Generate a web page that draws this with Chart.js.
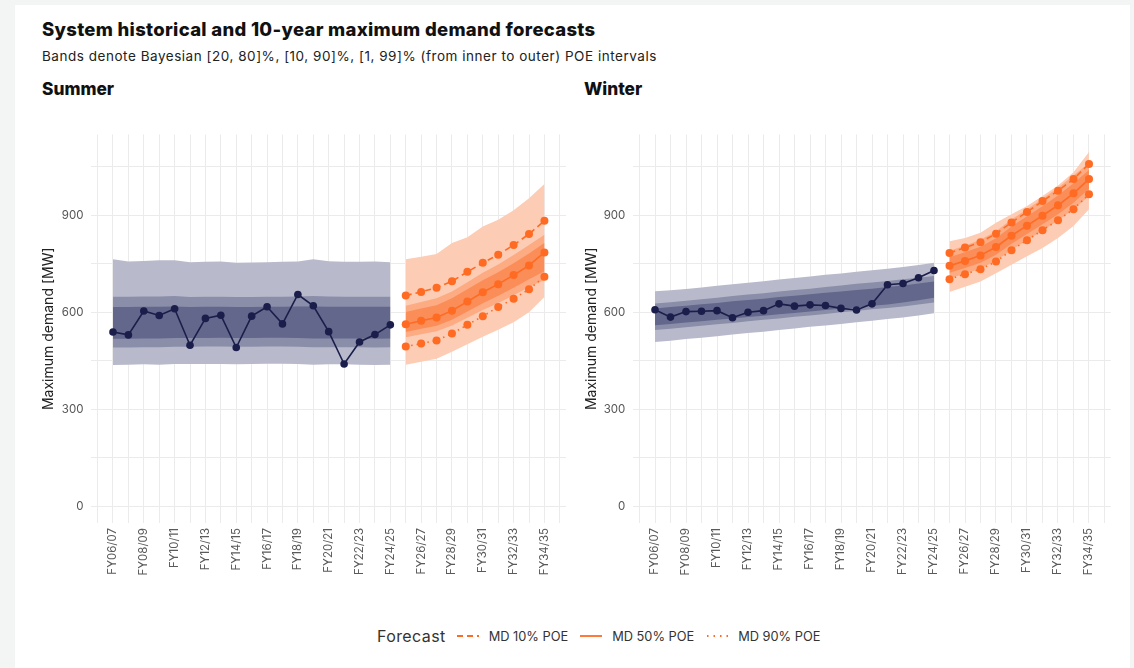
<!DOCTYPE html>
<html>
<head>
<meta charset="utf-8">
<script src="https://cdn.jsdelivr.net/npm/chart.js@4.4.1/dist/chart.umd.min.js"></script>
<style>
  html, body { margin:0; padding:0; }
  body { width:1134px; height:668px; background:#f3f4f4; position:relative; overflow:hidden; font-family: Inter, "DejaVu Sans", sans-serif; }
  #card { position:absolute; left:15px; top:5px; width:1115px; height:663px; background:#fff; }
  .abs { position:absolute; white-space:nowrap; }
  #title { left:42px; top:17px; font-size:18.5px; font-weight:800; color:#111; line-height:24px; letter-spacing:0.3px; }
  #subtitle { left:42px; top:47px; font-size:13.5px; color:#222; line-height:18px; letter-spacing:0.53px; }
  .panel { font-size:17.3px; font-weight:800; color:#111; line-height:20px; top:79px; }
  canvas { position:absolute; }
  #legend { left:377px; top:624px; height:24px; display:flex; align-items:center; color:#333; }
  #legend .lt { font-size:16px; margin-right:11px; letter-spacing:0.4px; }
  #legend .it { font-size:12.8px; margin-left:10px; margin-right:12px; letter-spacing:0px; }
</style>
</head>
<body>
<div id="card"></div>
<div id="title" class="abs">System historical and 10-year maximum demand forecasts</div>
<div id="subtitle" class="abs">Bands denote Bayesian [20, 80]%, [10, 90]%, [1, 99]% (from inner to outer) POE intervals</div>
<div class="abs panel" style="left:42px">Summer</div>
<div class="abs panel" style="left:584px">Winter</div>
<canvas id="summer" width="540" height="475" style="left:30px;top:125px"></canvas>
<canvas id="winter" width="540" height="475" style="left:575px;top:125px"></canvas>
<div id="legend" class="abs">
  <span class="lt">Forecast</span>
  <svg width="22" height="4"><line x1="0" y1="2" x2="22" y2="2" stroke="#ff6b22" stroke-width="1.8" stroke-dasharray="6,4"/></svg>
  <span class="it">MD 10% POE</span>
  <svg width="22" height="4"><line x1="0" y1="2" x2="22" y2="2" stroke="#ff6b22" stroke-width="1.8"/></svg>
  <span class="it">MD 50% POE</span>
  <svg width="22" height="4"><line x1="1" y1="2" x2="22" y2="2" stroke="#ff6b22" stroke-width="1.8" stroke-dasharray="1.5,5"/></svg>
  <span class="it">MD 90% POE</span>
</div>
<script>
// ---------- categories ----------
const categories = ['FY06/07','FY07/08','FY08/09','FY09/10','FY10/11','FY11/12','FY12/13','FY13/14','FY14/15','FY15/16',
  'FY16/17','FY17/18','FY18/19','FY19/20','FY20/21','FY21/22','FY22/23','FY23/24','FY24/25','FY25/26',
  'FY26/27','FY27/28','FY28/29','FY29/30','FY30/31','FY31/32','FY32/33','FY33/34','FY34/35'];
const histCount = 19;            // FY06/07 .. FY24/25
const yTickLabels = [0, 300, 600, 900];
const yGridValues = [0, 150, 300, 450, 600, 750, 900, 1050];

// ---------- Summer: historical ----------
const summerHist       = [539, 530, 604, 590, 611, 498, 581, 591, 491, 588, 617, 564, 655, 620, 540, 440, 508, 531, 561];
const summerHistP1Hi   = [764, 757, 759, 761, 761, 755, 756, 757, 753, 754, 755, 756, 757, 764, 758, 756, 756, 757, 755];
const summerHistP1Lo   = [437, 438, 439, 438, 440, 440, 440, 440, 439, 440, 441, 441, 440, 438, 439, 439, 438, 437, 438];
const summerHistP10Hi  = [648, 648, 649, 649, 650, 647, 648, 648, 647, 647, 648, 648, 649, 650, 649, 648, 648, 648, 648];
const summerHistP10Lo  = [491, 491, 492, 492, 493, 493, 494, 494, 493, 493, 494, 494, 493, 492, 492, 492, 492, 491, 492];
const summerHistP20Hi  = [616, 616, 617, 617, 618, 616, 617, 617, 616, 616, 617, 617, 618, 618, 617, 617, 617, 617, 617];
const summerHistP20Lo  = [518, 518, 519, 519, 520, 520, 520, 521, 520, 520, 521, 521, 520, 519, 519, 519, 519, 518, 519];

// ---------- Summer: forecast ----------
const summerPoe10      = [652, 663, 676, 696, 725, 753, 778, 808, 842, 883];
const summerPoe50      = [563, 574, 584, 605, 633, 662, 687, 715, 745, 785];
const summerPoe90      = [494, 503, 513, 534, 561, 588, 616, 642, 671, 710];
const summerFcP1Hi     = [764, 772, 780, 814, 832, 865, 886, 916, 953, 997];
const summerFcP1Lo     = [438, 447, 456, 478, 501, 524, 546, 569, 600, 647];
const summerFcP10Hi    = [620, 632, 643, 664, 693, 722, 748, 777, 808, 840];
const summerFcP10Lo    = [523, 532, 541, 559, 583, 607, 629, 653, 678, 700];
const summerFcP20Hi    = [601, 612, 622, 643, 671, 699, 724, 752, 782, 814];
const summerFcP20Lo    = [539, 549, 558, 577, 602, 628, 651, 676, 702, 727];

// ---------- Winter: historical ----------
const winterHist       = [608, 585, 602, 603, 605, 583, 600, 605, 626, 619, 623, 621, 612, 607, 626, 685, 689, 707, 729];
const winterHistP1Hi   = [665, 668, 672, 677, 682, 687, 691, 696, 701, 706, 711, 716, 720, 725, 730, 735, 740, 746, 753];
const winterHistP1Lo   = [508, 512, 517, 521, 526, 531, 536, 540, 545, 550, 555, 559, 564, 569, 574, 579, 584, 590, 597];
const winterHistP10Hi  = [627, 631, 636, 640, 645, 650, 655, 659, 664, 669, 673, 678, 683, 688, 692, 697, 702, 707, 712];
const winterHistP10Lo  = [545, 549, 554, 558, 563, 567, 572, 577, 581, 586, 590, 595, 600, 604, 609, 613, 618, 624, 630];
const winterHistP20Hi  = [612, 616, 620, 625, 629, 634, 638, 642, 647, 651, 656, 660, 664, 669, 673, 678, 683, 689, 695];
const winterHistP20Lo  = [560, 564, 568, 572, 577, 581, 585, 589, 594, 598, 602, 607, 611, 615, 620, 624, 630, 637, 645];

// ---------- Winter: forecast ----------
const winterPoe10      = [783, 800, 817, 843, 878, 910, 944, 976, 1012, 1059];
const winterPoe50      = [744, 759, 776, 802, 837, 868, 899, 931, 968, 1012];
const winterPoe90      = [702, 718, 733, 757, 792, 823, 854, 885, 919, 965];
const winterFcP1Hi     = [820, 830, 846, 877, 903, 929, 960, 992, 1033, 1096];
const winterFcP1Lo     = [663, 679, 695, 721, 747, 773, 799, 830, 867, 919];
const winterFcP10Hi    = [790, 806, 824, 851, 887, 919, 951, 985, 1023, 1062];
const winterFcP10Lo    = [705, 719, 735, 760, 793, 823, 853, 884, 919, 960];
const winterFcP20Hi    = [770, 786, 803, 829, 865, 897, 928, 961, 999, 1040];
const winterFcP20Lo    = [722, 737, 753, 778, 812, 842, 872, 903, 939, 982];

// ---------- styling ----------
const NAVY = '#1b1d4b';
const ORANGE = '#ff6b22';
const HIST_BANDS = ['#b8bacb', '#8b8ea9', '#63678b'];
const FC_BANDS = ['#fdccb4', '#fcab83', '#fa8d58'];
const TICK_FONT = { family: 'Inter, "DejaVu Sans", sans-serif', size: 11.5 };

const hpts = arr => arr.map((v, i) => ({ x: i, y: v }));
const fpts = arr => arr.map((v, i) => ({ x: i + histCount, y: v }));

function band(hi, lo, color, toPts) {
  return [
    { data: toPts(hi), fill: '+1', backgroundColor: color, borderWidth: 0, pointRadius: 0, tension: 0 },
    { data: toPts(lo), fill: false, borderWidth: 0, pointRadius: 0, tension: 0 }
  ];
}
function line(arr, color, toPts, dash, r) {
  return { data: toPts(arr), fill: false, borderColor: color, borderWidth: 1.6, borderDash: dash || [],
           pointRadius: r, pointBackgroundColor: color, pointBorderWidth: 0, pointHoverRadius: r, tension: 0 };
}

function makeChart(id, d, yAxisWidth, rightPad, titlePad) {
  const datasets = [];
  // lines first so they are drawn on top (dataset 0 is drawn last)
  datasets.push(line(d.hist, NAVY, hpts, null, 3.8));
  datasets.push(line(d.p10, ORANGE, fpts, [6, 4], 4));
  datasets.push(line(d.p50, ORANGE, fpts, null, 4));
  datasets.push(line(d.p90, ORANGE, fpts, [1.5, 4], 4));
  datasets.push(...band(d.hP20Hi, d.hP20Lo, HIST_BANDS[2], hpts));
  datasets.push(...band(d.fP20Hi, d.fP20Lo, FC_BANDS[2], fpts));
  datasets.push(...band(d.hP10Hi, d.hP10Lo, HIST_BANDS[1], hpts));
  datasets.push(...band(d.fP10Hi, d.fP10Lo, FC_BANDS[1], fpts));
  datasets.push(...band(d.hP1Hi, d.hP1Lo, HIST_BANDS[0], hpts));
  datasets.push(...band(d.fP1Hi, d.fP1Lo, FC_BANDS[0], fpts));

  new Chart(document.getElementById(id), {
    type: 'line',
    data: { datasets },
    options: {
      responsive: false, animation: false, devicePixelRatio: 1,
      layout: { padding: { top: 9.5, right: rightPad, left: 0, bottom: 0 } },
      plugins: { legend: { display: false }, tooltip: { enabled: false } },
      scales: {
        x: {
          type: 'linear', min: -1.4, max: categories.length - 1 + 1.4,
          grid: { color: '#ebebeb', lineWidth: 1, drawTicks: false },
          border: { display: false },
          afterBuildTicks: s => {
            const t = [];
            for (let i = -1; i <= categories.length; i++) t.push({ value: i });
            s.ticks = t;
          },
          ticks: {
            autoSkip: false, maxRotation: 90, minRotation: 90,
            padding: 5, color: '#5a5a5a', font: TICK_FONT,
            callback: v => (v >= 0 && v < categories.length && v % 2 === 0) ? categories[v] : ''
          },
          afterFit: s => { s.height = 77; s.paddingLeft = 0; s.paddingRight = 0; }
        },
        y: {
          type: 'linear', min: -52, max: 1150,
          grid: { color: '#ebebeb', lineWidth: 1, drawTicks: false },
          border: { display: false },
          afterBuildTicks: s => { s.ticks = yGridValues.map(v => ({ value: v })); },
          ticks: { autoSkip: false, padding: 8, color: '#555', font: TICK_FONT,
                   callback: v => yTickLabels.includes(v) ? String(v) : '' },
          title: { display: true, text: 'Maximum demand [MW]', color: '#222',
                   font: { family: 'Inter, "DejaVu Sans", sans-serif', size: 14 }, padding: { top: titlePad, bottom: 0 } },
          afterFit: s => { s.width = yAxisWidth; s.paddingTop = 0; s.paddingBottom = 0; }
        }
      }
    }
  });
}

makeChart('summer', {
  hist: summerHist, p10: summerPoe10, p50: summerPoe50, p90: summerPoe90,
  hP1Hi: summerHistP1Hi, hP1Lo: summerHistP1Lo, hP10Hi: summerHistP10Hi, hP10Lo: summerHistP10Lo,
  hP20Hi: summerHistP20Hi, hP20Lo: summerHistP20Lo,
  fP1Hi: summerFcP1Hi, fP1Lo: summerFcP1Lo, fP10Hi: summerFcP10Hi, fP10Lo: summerFcP10Lo,
  fP20Hi: summerFcP20Hi, fP20Lo: summerFcP20Lo
}, 61.4, 3.4, 10.2);

makeChart('winter', {
  hist: winterHist, p10: winterPoe10, p50: winterPoe50, p90: winterPoe90,
  hP1Hi: winterHistP1Hi, hP1Lo: winterHistP1Lo, hP10Hi: winterHistP10Hi, hP10Lo: winterHistP10Lo,
  hP20Hi: winterHistP20Hi, hP20Lo: winterHistP20Lo,
  fP1Hi: winterFcP1Hi, fP1Lo: winterFcP1Lo, fP10Hi: winterFcP10Hi, fP10Lo: winterFcP10Lo,
  fP20Hi: winterFcP20Hi, fP20Lo: winterFcP20Lo
}, 58.3, 4.3, 8.2);
</script>
</body>
</html>
